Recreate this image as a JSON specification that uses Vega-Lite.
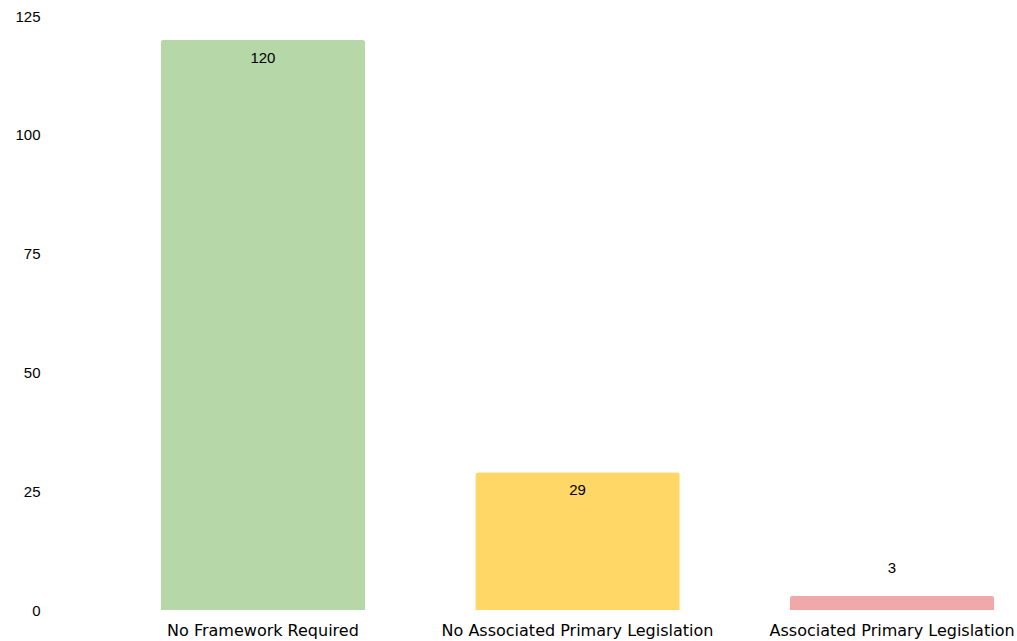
{
  "$schema": "https://vega.github.io/schema/vega-lite/v6.json",
  "autosize": "none",
  "width": 865,
  "height": 594,
  "padding": {"left": 145, "top": 16, "right": 7, "bottom": 31},
  "background": "#ffffff",
  "config": {
    "view": {"stroke": null},
    "font": "Liberation Sans"
  },
  "data": {
    "values": [
      {"category": "No Framework Required", "count": 120},
      {"category": "No Associated Primary Legislation", "count": 29},
      {"category": "Associated Primary Legislation", "count": 3}
    ]
  },
  "encoding": {
    "x": {
      "field": "category",
      "type": "nominal",
      "sort": null,
      "title": null,
      "scale": {"paddingInner": 0.35, "paddingOuter": 0.05},
      "axis": {
        "domain": false,
        "ticks": false,
        "labelAngle": 0,
        "labelFont": "DejaVu Sans",
        "labelFontSize": 16,
        "labelColor": "#000000",
        "labelPadding": 12,
        "labelLimit": 0,
        "labelOverlap": false,
        "labelBound": false
      }
    },
    "y": {
      "field": "count",
      "type": "quantitative",
      "title": null,
      "scale": {"domain": [0, 125], "nice": false},
      "axis": {
        "values": [0, 25, 50, 75, 100, 125],
        "domain": false,
        "ticks": false,
        "grid": false,
        "labelFontSize": 15,
        "labelColor": "#000000",
        "offset": 100,
        "labelPadding": 5
      }
    }
  },
  "layer": [
    {
      "mark": {"type": "bar", "cornerRadiusTopLeft": 3, "cornerRadiusTopRight": 3},
      "encoding": {
        "color": {
          "field": "category",
          "type": "nominal",
          "legend": null,
          "scale": {
            "domain": ["No Framework Required", "No Associated Primary Legislation", "Associated Primary Legislation"],
            "range": ["#b6d7a8", "#fed766", "#f1a8a9"]
          }
        }
      }
    },
    {
      "transform": [{"filter": "datum.count >= 10"}],
      "mark": {"type": "text", "baseline": "middle", "dy": 18, "fontSize": 15, "color": "#000000"},
      "encoding": {"text": {"field": "count", "type": "quantitative"}}
    },
    {
      "transform": [{"filter": "datum.count < 10"}],
      "mark": {"type": "text", "baseline": "middle", "dy": -28, "fontSize": 15, "color": "#000000"},
      "encoding": {"text": {"field": "count", "type": "quantitative"}}
    }
  ]
}
